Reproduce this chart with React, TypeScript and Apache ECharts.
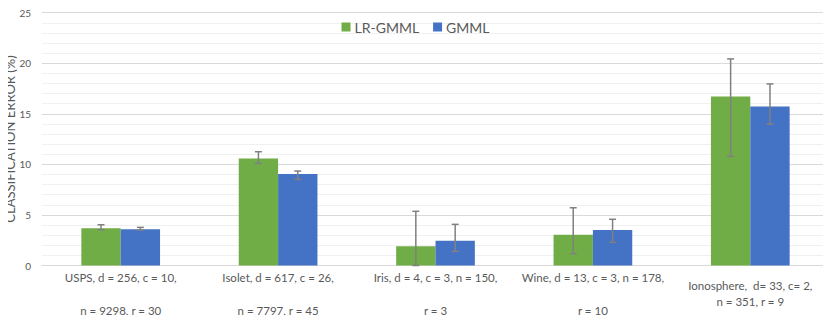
import React, { useEffect, useRef } from "react";
import * as echarts from "echarts";

const categories = [
  "USPS, d = 256, c = 10,\n\nn = 9298, r = 30",
  "Isolet, d = 617, c = 26,\n\nn = 7797, r = 45",
  "Iris, d = 4, c = 3, n = 150,\n\nr = 3",
  "Wine, d = 13, c = 3, n = 178,\n\nr = 10",
  "Ionosphere,  d= 33, c= 2,\nn = 351, r = 9",
];
const seriesNames = ["LR-GMML", "GMML"];
const yAxisTitle = "CLASSIFICATION ERROR (%)";
const lrValues = [3.68, 10.59, 1.9, 3.04, 16.72];
const lrLow = [3.54, 10.1, 0, 1.17, 10.79];
const lrHigh = [4.03, 11.25, 5.36, 5.71, 20.43];
const gmValues = [3.58, 9.04, 2.45, 3.51, 15.73];
const gmLow = [3.5, 8.52, 1.4, 2.29, 13.98];
const gmHigh = [3.77, 9.34, 4.07, 4.57, 17.96];
const yTicks = [0, 5, 10, 15, 20, 25];

const GREEN = "#70AD47";
const BLUE = "#4472C4";
const TEXT = "#595959";
const FONT = "Lato, 'Open Sans', sans-serif";
const BAR_FRAC = 0.25;

function errorSeries(low: number[], high: number[], side: number) {
  return {
    type: "custom",
    silent: true,
    z: 10,
    data: low.map((l, i) => [i, l, high[i]]),
    renderItem: (params: any, api: any) => {
      const idx = api.value(0);
      const lo = api.coord([idx, api.value(1)]);
      const hi = api.coord([idx, api.value(2)]);
      const catW = api.size([1, 0])[0];
      const x = lo[0] + (side * catW * BAR_FRAC) / 2;
      const cap = 3.5;
      const style = { stroke: "#808080", lineWidth: 1.5, fill: "none" };
      return {
        type: "group",
        children: [
          { type: "line", shape: { x1: x, y1: lo[1], x2: x, y2: hi[1] }, style },
          { type: "line", shape: { x1: x - cap, y1: hi[1], x2: x + cap, y2: hi[1] }, style },
          { type: "line", shape: { x1: x - cap, y1: lo[1], x2: x + cap, y2: lo[1] }, style },
        ],
      };
    },
  };
}

export default function App() {
  const ref = useRef<HTMLDivElement>(null);
  useEffect(() => {
    if (!ref.current) return;
    const chart = echarts.init(ref.current, undefined, { renderer: "svg" });
    chart.setOption({
      animation: false,
      textStyle: { fontFamily: FONT },
      legend: {
        data: seriesNames,
        top: 15,
        left: "center",
        itemWidth: 9,
        itemHeight: 9,
        itemGap: 14,
        icon: "rect",
        textStyle: { color: TEXT, fontSize: 14, fontFamily: FONT, padding: [0, 0, 0, -1] },
      },
      graphic: [
        {
          type: "group",
          x: 16,
          y: 139,
          rotation: Math.PI / 2,
          children: [
            {
              type: "text",
              x: 0,
              y: 0,
              style: {
                text: yAxisTitle,
                fill: TEXT,
                fontSize: 13,
                fontFamily: FONT,
                align: "center",
                verticalAlign: "bottom",
              },
            },
          ],
        },
      ],
      grid: {
        left: 42,
        right: 2,
        top: 12.7,
        bottom: 57.5,
        containLabel: false,
        outerBoundsMode: "none",
      },
      xAxis: {
        type: "category",
        data: categories,
        axisTick: { show: false },
        axisLine: { lineStyle: { color: "#d9d9d9", width: 1 } },
        axisLabel: {
          color: TEXT,
          fontSize: 11.5,
          fontFamily: FONT,
          lineHeight: 16.5,
          verticalAlign: "middle",
          margin: 28,
          interval: 0,
        },
      },
      yAxis: {
        type: "value",
        min: yTicks[0],
        max: yTicks[yTicks.length - 1],
        interval: 5,
        axisLine: { show: false },
        axisTick: { show: false },
        axisLabel: { color: TEXT, fontSize: 10, fontFamily: FONT, margin: 11 },
        splitLine: { lineStyle: { color: "#d9d9d9", width: 1 } },
        minorTick: { show: false, splitNumber: 5 },
        minorSplitLine: { show: true, lineStyle: { color: "#f0f0f0", width: 1 } },
      },
      series: [
        {
          name: seriesNames[0],
          type: "bar",
          data: lrValues,
          barWidth: BAR_FRAC * 100 + "%",
          barGap: "0%",
          itemStyle: { color: GREEN },
        },
        {
          name: seriesNames[1],
          type: "bar",
          data: gmValues,
          barWidth: BAR_FRAC * 100 + "%",
          barGap: "0%",
          itemStyle: { color: BLUE },
        },
        errorSeries(lrLow, lrHigh, -1),
        errorSeries(gmLow, gmHigh, 1),
      ],
    });
    return () => chart.dispose();
  }, []);
  return <div ref={ref} style={{ width: 831, height: 323, margin: -8 }} />;
}
